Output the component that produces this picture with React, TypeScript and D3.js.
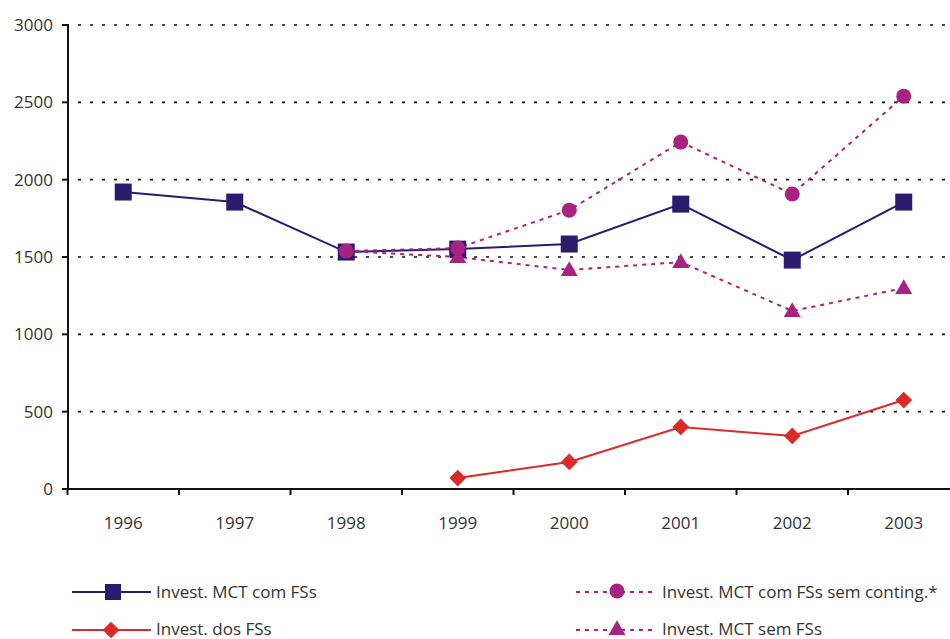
import React from "react";
import * as d3 from "d3";

const years = ["1996", "1997", "1998", "1999", "2000", "2001", "2002", "2003"];
const yTicks = [0, 500, 1000, 1500, 2000, 2500, 3000];

const mctComFSs: [string, number][] = [
  ["1996", 1920], ["1997", 1855], ["1998", 1532], ["1999", 1551],
  ["2000", 1584], ["2001", 1842], ["2002", 1480], ["2003", 1855],
];
const dosFSs: [string, number][] = [
  ["1999", 71], ["2000", 175], ["2001", 401], ["2002", 343], ["2003", 575],
];
const semConting: [string, number][] = [
  ["1998", 1538], ["1999", 1558], ["2000", 1803], ["2001", 2243], ["2002", 1907], ["2003", 2540],
];
const semFSs: [string, number][] = [
  ["1998", 1538], ["1999", 1500], ["2000", 1416], ["2001", 1467], ["2002", 1151], ["2003", 1299],
];

const NAVY = "#2b1a6e";
const RED = "#dc2a2a";
const MAG = "#a8237f";
const FONT = "'Open Sans', sans-serif";

export default function App() {
  const W = 950, H = 639;
  const x = d3.scaleBand<string>().domain(years).range([67.5, 959.5]);
  const y = d3.scaleLinear().domain([0, 3000]).range([489, 25]);
  const cx = (k: string) => (x(k) as number) + x.bandwidth() / 2;
  const line = d3.line<[string, number]>().x(d => cx(d[0])).y(d => y(d[1]));
  const tri = d3.symbol().type(d3.symbolTriangle).size(125)();
  const dia = d3.symbol().type(d3.symbolSquare).size(140)();
  const dash = "4 5";

  return (
    <svg width={W} height={H} style={{ position: "absolute", left: 0, top: 0 }} fontFamily={FONT}>
      <rect width={W} height={H} fill="#fff" />
      {/* grid */}
      {yTicks.filter(t => t > 0).map(t => (
        <line key={t} x1={68} x2={W} y1={y(t)} y2={y(t)} stroke="#111" strokeWidth={1.6} strokeDasharray="3 9" strokeDashoffset={-10} />
      ))}
      {/* y axis */}
      <line x1={68} x2={68} y1={24} y2={490} stroke="#111" strokeWidth={2} />
      {yTicks.map(t => (
        <g key={t}>
          <line x1={62} x2={68} y1={y(t)} y2={y(t)} stroke="#111" strokeWidth={2} />
          <text x={53} y={y(t)} dy="0.35em" textAnchor="end" fontSize={17} fill="#333">{t}</text>
        </g>
      ))}
      {/* x axis */}
      <line x1={62} x2={W} y1={489} y2={489} stroke="#111" strokeWidth={2} />
      {years.map(k => (
        <g key={k}>
          <line x1={x(k)} x2={x(k)} y1={489} y2={495} stroke="#111" strokeWidth={2} />
          <text x={cx(k)} y={529} textAnchor="middle" fontSize={17} fill="#333">{k}</text>
        </g>
      ))}
      {/* series lines */}
      <path d={line(mctComFSs) || ""} fill="none" stroke={NAVY} strokeWidth={2} />
      <path d={line(dosFSs) || ""} fill="none" stroke={RED} strokeWidth={2} />
      <path d={line(semConting) || ""} fill="none" stroke={MAG} strokeWidth={2} strokeDasharray={dash} />
      <path d={line(semFSs) || ""} fill="none" stroke={MAG} strokeWidth={2} strokeDasharray={dash} />
      {/* markers */}
      {mctComFSs.map(d => (
        <rect key={d[0]} x={cx(d[0]) - 8.5} y={y(d[1]) - 8.5} width={17} height={17} fill={NAVY} />
      ))}
      {dosFSs.map(d => (
        <path key={d[0]} d={dia || ""} transform={`translate(${cx(d[0])},${y(d[1])}) rotate(45)`} fill={RED} />
      ))}
      {semFSs.filter(d => d[0] !== "1998").map(d => (
        <path key={d[0]} d={tri || ""} transform={`translate(${cx(d[0])},${y(d[1]) + 1})`} fill={MAG} />
      ))}
      {semConting.map(d => (
        <circle key={d[0]} cx={cx(d[0])} cy={y(d[1])} r={7.5} fill={MAG} />
      ))}
      {/* legend */}
      <g fontSize={17} fill="#333">
        <line x1={72} x2={151} y1={592} y2={592} stroke={NAVY} strokeWidth={2} />
        <rect x={105} y={584} width={16} height={16} fill={NAVY} />
        <text x={156} y={592} dy="0.35em">Invest. MCT com FSs</text>

        <line x1={72} x2={151} y1={630} y2={630} stroke={RED} strokeWidth={2} />
        <path d={dia || ""} transform="translate(111,630) rotate(45)" fill={RED} />
        <text x={156} y={629} dy="0.35em">Invest. dos FSs</text>

        <line x1={576} x2={652} y1={592} y2={592} stroke={MAG} strokeWidth={2} strokeDasharray={dash} />
        <circle cx={617} cy={591} r={7.5} fill={MAG} />
        <text x={662} y={592} dy="0.35em">Invest. MCT com FSs sem conting.*</text>

        <line x1={576} x2={652} y1={630} y2={630} stroke={MAG} strokeWidth={2} strokeDasharray={dash} />
        <path d={tri || ""} transform="translate(617,630)" fill={MAG} />
        <text x={662} y={629} dy="0.35em">Invest. MCT sem FSs</text>
      </g>
    </svg>
  );
}
